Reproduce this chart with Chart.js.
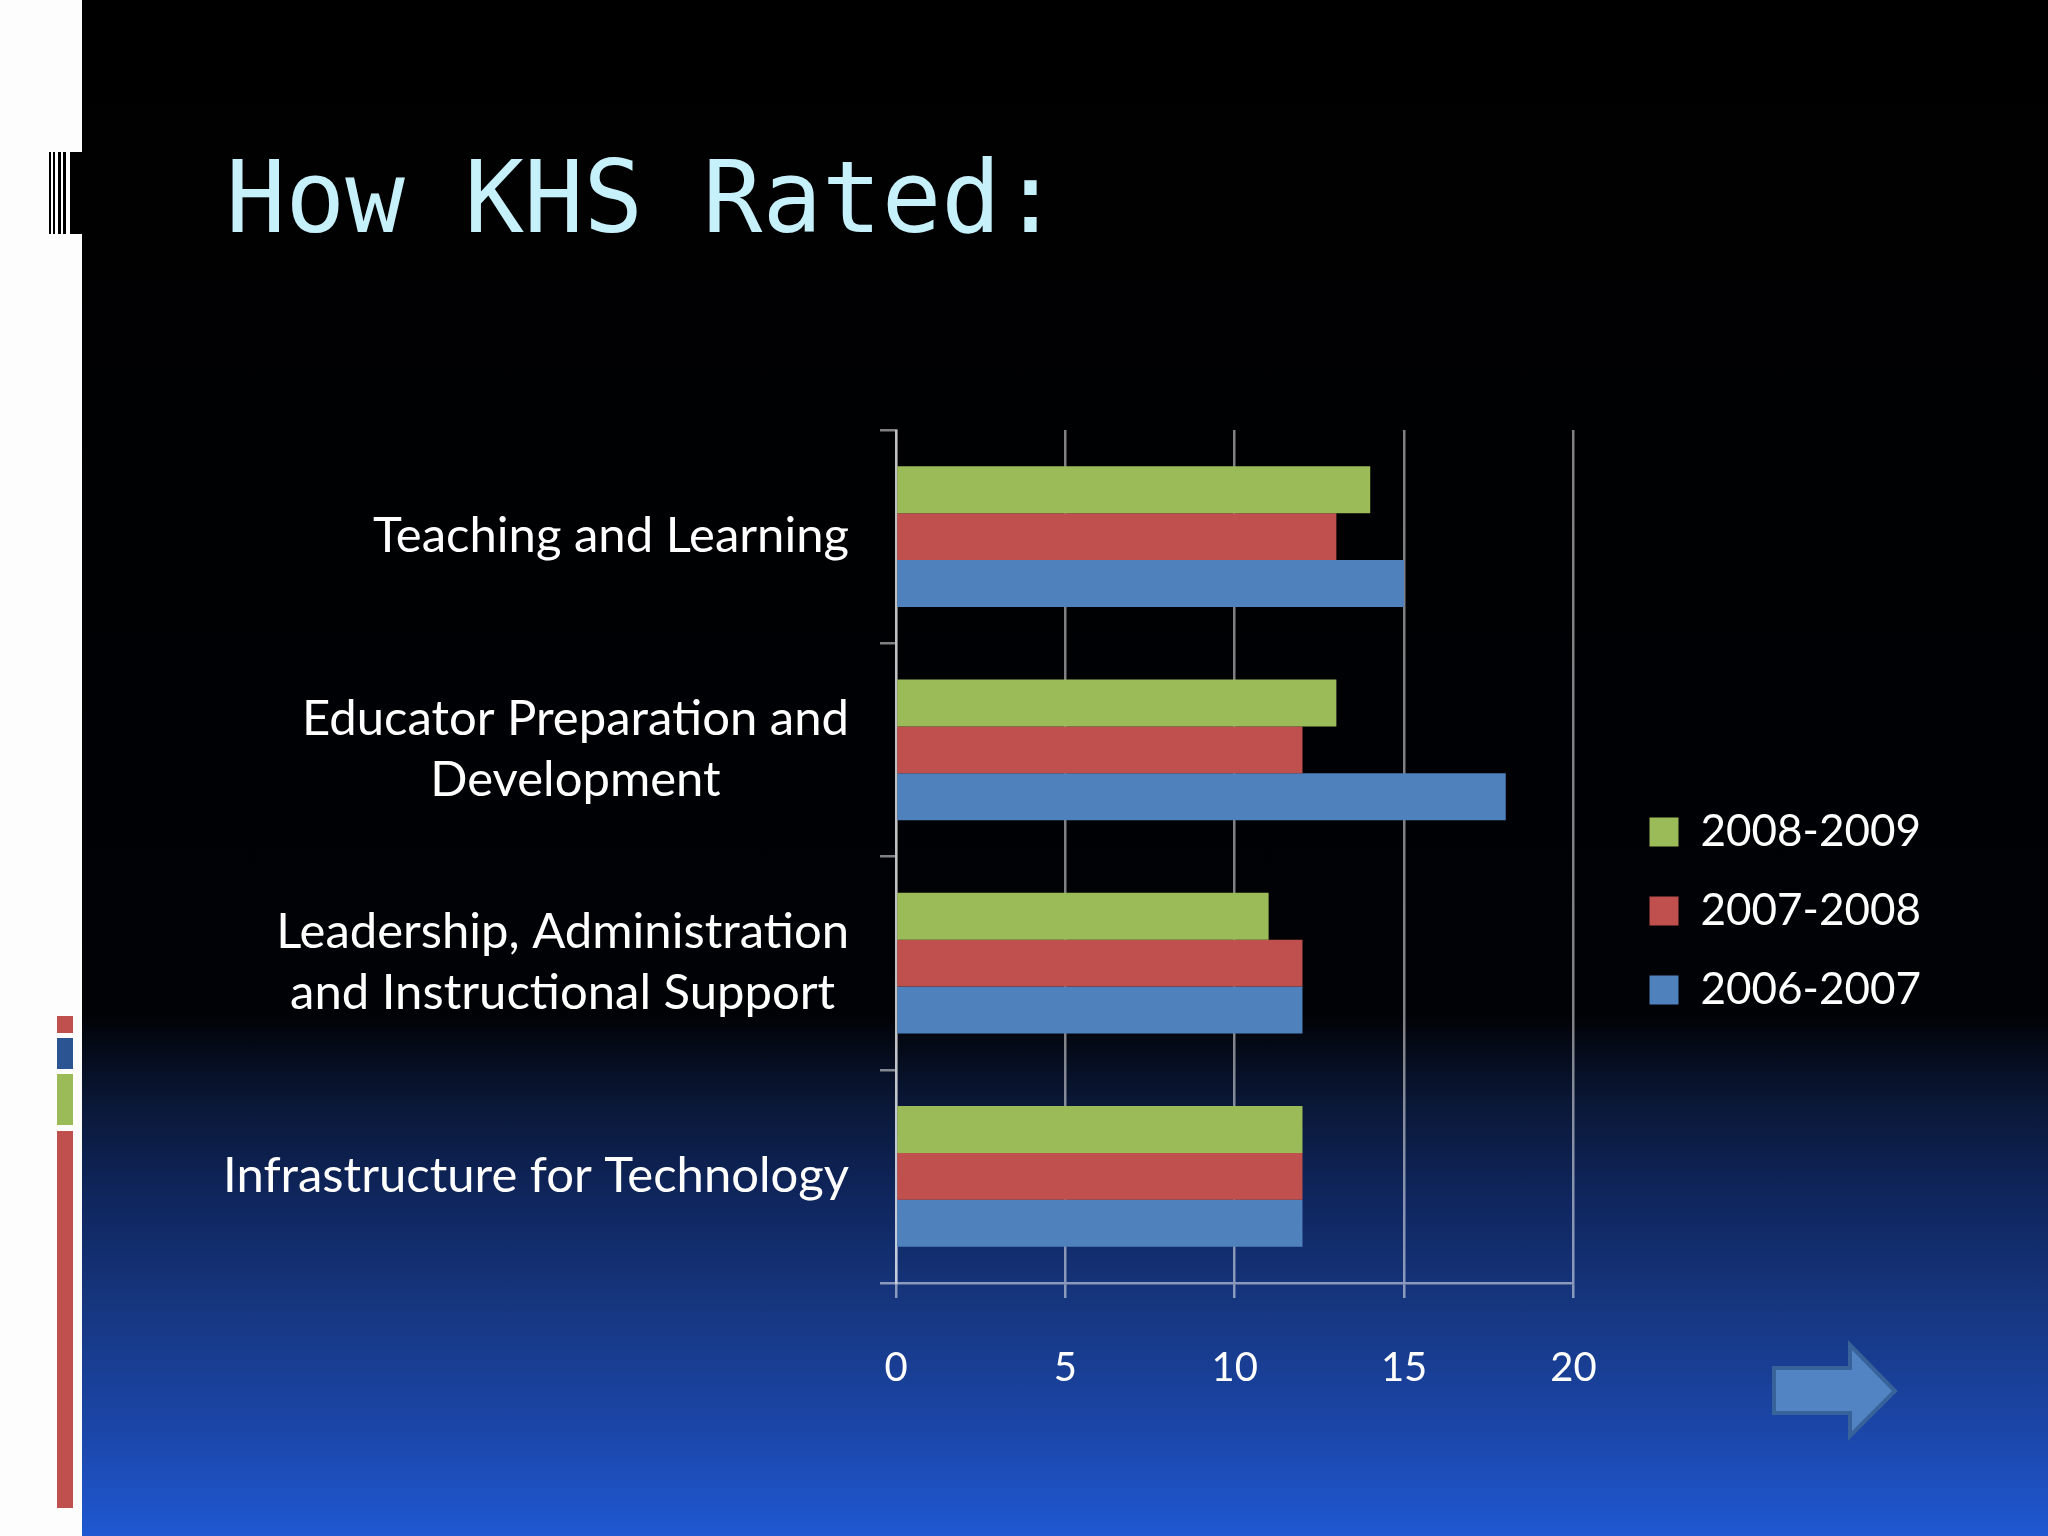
<!DOCTYPE html>
<html>
<head>
<meta charset="utf-8">
<title>How KHS Rated</title>
<script src="https://cdn.jsdelivr.net/npm/chart.js@4.4.1/dist/chart.umd.min.js"></script>
<style>
  html, body { margin: 0; padding: 0; }
  body {
    width: 2048px; height: 1536px; position: relative; overflow: hidden;
    background: linear-gradient(to bottom, #000000 0%, #010206 66%, #0a1838 72%, #0f265e 78%, #16367f 85%, #1b46a8 93%, #1f58d2 100%);
  }
  .strip { position: absolute; left: 0; top: 0; width: 82px; height: 1536px; background: #fdfdfd; }
  .barcode {
    position: absolute; left: 49px; top: 152px; width: 33px; height: 82px;
    background: linear-gradient(to right,
      #000 0px, #000 2px, #fff 2px, #fff 4px, #000 4px, #000 6px, #fff 6px, #fff 9px,
      #000 9px, #000 12px, #fff 12px, #fff 14px, #000 14px, #000 17px, #fff 17px, #fff 21px,
      #000 21px, #000 33px);
  }
  .deco { position: absolute; left: 57px; width: 16px; }
  h1 {
    position: absolute; left: 226px; top: 148px; margin: 0;
    font-family: "DejaVu Sans Mono", monospace; font-weight: normal;
    font-size: 99px; line-height: 99px; color: #c6f1fb; white-space: pre;
  }
  #chart { position: absolute; left: 0; top: 0; }
  .arrow { position: absolute; left: 0; top: 0; }
</style>
</head>
<body>
<div class="strip"></div>
<div class="barcode"></div>
<div class="deco" style="top:1016px;height:17px;background:#c0504d"></div>
<div class="deco" style="top:1038px;height:31px;background:#2a5592"></div>
<div class="deco" style="top:1074px;height:51px;background:#9bbb59"></div>
<div class="deco" style="top:1131px;height:377px;background:#c0504d"></div>
<h1>How KHS Rated:</h1>
<svg class="arrow" width="2048" height="1536">
  <polygon points="1774,1368 1850,1368 1850,1345 1895,1391 1850,1436 1850,1413 1774,1413"
           fill="#5283c2" stroke="#37629a" stroke-width="4"/>
</svg>
<canvas id="chart" width="2048" height="1536"></canvas>
<script>
// How KHS Rated: ratings per focus area, three school years

const categories = [
  ['Teaching and Learning'],
  ['Educator Preparation and', 'Development'],
  ['Leadership, Administration', 'and Instructional Support'],
  ['Infrastructure for Technology'],
];
const seriesNames = ['2008-2009', '2007-2008', '2006-2007'];
const values0809 = [14, 13, 11, 12];
const values0708 = [13, 12, 12, 12];
const values0607 = [15, 18, 12, 12];
const xTicks = [0, 5, 10, 15, 20];
const seriesColors = ['#9bbb59', '#c0504d', '#4f81bd'];

const gridColor = 'rgba(255, 255, 255, 0.5)';

// Category names: block right aligned, lines centred inside the block
const categoryLabels = {
  id: 'categoryLabels',
  afterDraw(chart) {
    const ctx = chart.ctx;
    const yScale = chart.scales.y;
    const right = chart.chartArea.left - 47;
    ctx.save();
    ctx.font = '49px Lato';
    ctx.fillStyle = '#ffffff';
    ctx.textAlign = 'center';
    ctx.textBaseline = 'middle';
    categories.forEach((lines, i) => {
      const cy = yScale.getPixelForValue(i);
      const w = Math.max(...lines.map((l) => ctx.measureText(l).width));
      lines.forEach((line, j) => {
        ctx.fillText(line, right - w / 2, cy + (j - (lines.length - 1) / 2) * 61);
      });
    });
    ctx.restore();
  },
};

function renderChart() {
  const ctx = document.getElementById('chart').getContext('2d');
  const values = [values0809, values0708, values0607];

  new Chart(ctx, {
    type: 'bar',
    data: {
      labels: categories.map((c) => c.join(' ')),
      datasets: seriesNames.map((name, i) => ({
        label: name,
        data: values[i],
        backgroundColor: seriesColors[i],
        borderWidth: 0,
        categoryPercentage: 0.66,
        barPercentage: 1.0,
      })),
    },
    options: {
      indexAxis: 'y',
      responsive: false,
      animation: false,
      devicePixelRatio: 1,
      layout: {
        padding: { left: 0, top: 430, right: 117, bottom: 144 },
      },
      plugins: {
        legend: {
          position: 'right',
          labels: {
            color: '#ffffff',
            font: { family: 'Lato', size: 44, lineHeight: 1 },
            boxWidth: 29,
            boxHeight: 29,
            padding: 35,
          },
        },
        tooltip: { enabled: false },
      },
      scales: {
        x: {
          min: 0,
          max: 20,
          afterBuildTicks: (scale) => {
            scale.ticks = xTicks.map((v) => ({ value: v }));
          },
          afterFit: (scale) => {
            scale.height = 109;
          },
          grid: { color: gridColor, lineWidth: 2.5, tickLength: 15 },
          border: { color: gridColor, width: 2.5 },
          ticks: {
            color: '#ffffff',
            font: { family: 'Lato', size: 40 },
            padding: 46,
          },
        },
        y: {
          grid: { drawOnChartArea: false, color: gridColor, lineWidth: 2.5, tickLength: 16 },
          border: { color: gridColor, width: 2.5 },
          ticks: { display: false },
          afterFit: (scale) => {
            scale.width = 896;
          },
        },
        gap: {
          axis: 'y',
          position: 'right',
          grid: { display: false },
          border: { display: false },
          ticks: { display: false },
          afterFit: (scale) => {
            scale.width = 41;
          },
        },
      },
    },
    plugins: [categoryLabels],
  });
}

document.fonts.load('49px Lato').then(renderChart, renderChart);
</script>
</body>
</html>
